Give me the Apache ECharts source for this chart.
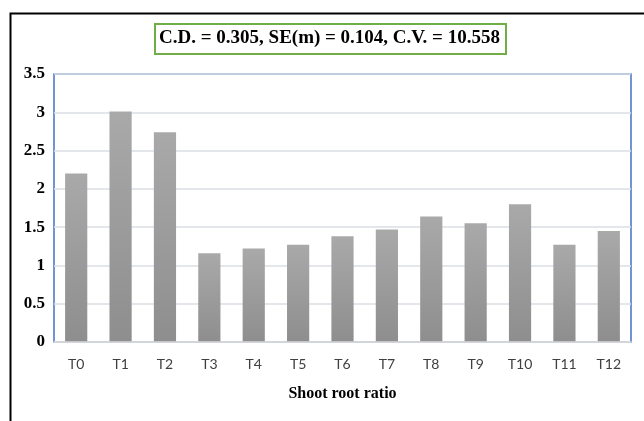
<!DOCTYPE html>
<html>
<head>
<meta charset="utf-8">
<script src="https://cdn.jsdelivr.net/npm/echarts@6/dist/echarts.min.js"></script>
<style>html,body{margin:0;padding:0;background:#fff;}#c{width:644px;height:421px;}</style>
</head>
<body>
<div id="c"></div>
<script>
const categories = ['T0','T1','T2','T3','T4','T5','T6','T7','T8','T9','T10','T11','T12'];
const values = [2.20, 3.01, 2.74, 1.16, 1.22, 1.27, 1.38, 1.47, 1.64, 1.55, 1.80, 1.27, 1.45];
const yTicks = { min: 0, max: 3.5, interval: 0.5 };
const titleText = 'C.D. = 0.305, SE(m) = 0.104, C.V. = 10.558';
const xAxisTitle = 'Shoot root ratio';

const chart = echarts.init(document.getElementById('c'), null, { renderer: 'canvas' });
chart.setOption({
  animation: false,
  backgroundColor: '#fff',
  grid: { left: 54, right: 13, top: 74, bottom: 79, show: true, borderColor: '#4472c4', borderWidth: 1.5, backgroundColor: 'transparent' },
  graphic: [
    { type: 'rect', left: 8, top: 11, shape: { width: 700, height: 500 }, style: { fill: 'none', stroke: '#000', lineWidth: 2 }, z: 100 },
    { type: 'rect', left: 154, top: 23, shape: { width: 351, height: 30 }, style: { fill: '#fff', stroke: '#70ad47', lineWidth: 2 }, z: 100 },
    { type: 'text', x: 329.5, y: 38.5, style: { text: titleText, fontFamily: 'Liberation Serif', fontWeight: 'bold', fontSize: 19, fill: '#000', textAlign: 'center', textVerticalAlign: 'middle' }, z: 101 }
  ],
  xAxis: {
    type: 'category',
    data: categories,
    name: xAxisTitle,
    nameLocation: 'middle',
    nameGap: 44,
    nameTextStyle: { fontFamily: 'Liberation Serif', fontWeight: 'bold', fontSize: 16, color: '#000' },
    axisLine: { show: true, lineStyle: { color: '#d9d9d9', width: 1.5 } },
    axisTick: { show: false },
    axisLabel: { fontFamily: 'Lato', fontSize: 14, color: '#404040', margin: 15 },
    z: 10
  },
  yAxis: {
    type: 'value',
    min: yTicks.min, max: yTicks.max, interval: yTicks.interval,
    axisLine: { show: false },
    axisTick: { show: false },
    splitLine: { lineStyle: { color: '#dadfe6', width: 1.5 } },
    axisLabel: { fontFamily: 'Liberation Serif', fontWeight: 'bold', fontSize: 17, color: '#000', margin: 9 }
  },
  series: [{
    type: 'bar',
    data: values,
    barWidth: '50%',
    itemStyle: {
      color: new echarts.graphic.LinearGradient(0, 0, 0, 1, [
        { offset: 0, color: '#a9a9a9' },
        { offset: 1, color: '#8e8e8e' }
      ])
    }
  }]
});
</script>
</body>
</html>
